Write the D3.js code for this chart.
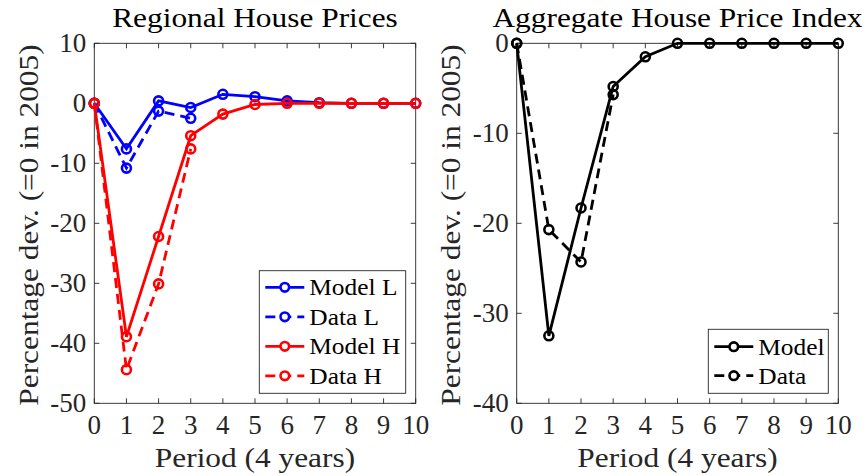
<!DOCTYPE html>
<html>
<head>
<meta charset="utf-8">
<script src="https://cdn.jsdelivr.net/npm/d3@7"></script>
<style>
  html, body { margin: 0; padding: 0; background: #fff; }
  svg { display: block; }
  text { font-family: "Liberation Serif", "Times New Roman", serif; }
</style>
</head>
<body>
<svg id="chart" width="867" height="476"></svg>
<script>
// Periods (4-year steps, 0 = 2005)
const periods = [0, 1, 2, 3, 4, 5, 6, 7, 8, 9, 10];
const dataPeriods = [0, 1, 2, 3];

// Regional house prices, % deviation from 2005
const modelL = [0, -7.6, 0.4, -0.7, 1.5, 1.1, 0.4, 0.1, 0, 0, 0];
const dataL  = [0, -10.8, -1.3, -2.5];
const modelH = [0, -38.9, -22.2, -5.4, -1.8, -0.2, 0, 0, 0, 0, 0];
const dataH  = [0, -44.4, -30.1, -7.6];

// Aggregate house price index, % deviation from 2005
const modelAgg = [0, -32.5, -18.3, -4.8, -1.5, 0, 0, 0, 0, 0, 0];
const dataAgg  = [0, -20.7, -24.3, -5.7];

const xTicks = [0, 1, 2, 3, 4, 5, 6, 7, 8, 9, 10];
const yTicksLeft = [-50, -40, -30, -20, -10, 0, 10];
const yTicksRight = [-40, -30, -20, -10, 0];

const svg = d3.select("#chart");
const AXIS = "#262626";

// Widen the serif face toward a Computer Modern footprint
function stretch(factor) {
  return sel => sel.each(function () {
    const w = this.getComputedTextLength();
    d3.select(this).attr("textLength", w * factor).attr("lengthAdjust", "spacingAndGlyphs");
  });
}

function panel(opts) {
  const x = d3.scaleLinear().domain([0, 10]).range([opts.x0, opts.x1]);
  const y = d3.scaleLinear().domain(opts.yDomain).range([403.3, 43.3]);
  const g = svg.append("g");
  const tickLen = 5;

  // Ticks pointing inward on all four sides
  const ax = g.append("g").attr("stroke", AXIS).attr("stroke-width", 0.9);
  xTicks.forEach(t => {
    ax.append("line").attr("x1", x(t)).attr("x2", x(t)).attr("y1", y.range()[0]).attr("y2", y.range()[0] - tickLen);
    ax.append("line").attr("x1", x(t)).attr("x2", x(t)).attr("y1", y.range()[1]).attr("y2", y.range()[1] + tickLen);
  });
  opts.yTicks.forEach(t => {
    ax.append("line").attr("x1", x.range()[0]).attr("x2", x.range()[0] + tickLen).attr("y1", y(t)).attr("y2", y(t));
    ax.append("line").attr("x1", x.range()[1]).attr("x2", x.range()[1] - tickLen).attr("y1", y(t)).attr("y2", y(t));
  });
  ax.append("rect")
    .attr("x", x.range()[0]).attr("y", y.range()[1])
    .attr("width", x.range()[1] - x.range()[0]).attr("height", y.range()[0] - y.range()[1])
    .attr("fill", "none");

  // Tick labels
  g.append("g").selectAll("text").data(xTicks).join("text")
    .attr("x", d => x(d)).attr("y", 434)
    .attr("text-anchor", "middle").attr("font-size", 27).attr("fill", AXIS)
    .text(d => d);
  g.append("g").selectAll("text").data(opts.yTicks).join("text")
    .attr("x", x.range()[0] - 8).attr("y", d => y(d)).attr("dy", "0.34em")
    .attr("text-anchor", "end").attr("font-size", 27).attr("fill", AXIS)
    .text(d => d);

  // Title and axis labels
  g.append("text").attr("x", (opts.x0 + opts.x1) / 2).attr("y", 27)
    .attr("text-anchor", "middle").attr("font-size", 28).attr("fill", "#000")
    .text(opts.title).call(stretch(1.12));
  g.append("text").attr("x", (opts.x0 + opts.x1) / 2).attr("y", 467)
    .attr("text-anchor", "middle").attr("font-size", 28).attr("fill", AXIS)
    .text("Period (4 years)").call(stretch(1.12));
  g.append("text")
    .attr("transform", `translate(${opts.yLabelX},225) rotate(-90)`)
    .attr("text-anchor", "middle").attr("font-size", 28).attr("fill", AXIS)
    .text("Percentage dev. (=0 in 2005)").call(stretch(1.12));

  // Series
  const plot = g.append("g");
  opts.series.forEach(s => {
    const pts = s.values.map((v, i) => [s.xs[i], v]);
    const line = d3.line().x(d => x(d[0])).y(d => y(d[1]));
    plot.append("path").datum(pts)
      .attr("d", line).attr("fill", "none")
      .attr("stroke", s.color).attr("stroke-width", 2.8)
      .attr("stroke-dasharray", s.dashed ? "10,6" : null)
      .attr("stroke-linejoin", "miter");
    plot.append("g").selectAll("circle").data(pts).join("circle")
      .attr("cx", d => x(d[0])).attr("cy", d => y(d[1])).attr("r", 4.5)
      .attr("fill", "none").attr("stroke", s.color).attr("stroke-width", 2.6);
  });

  // Legend
  const L = opts.legend;
  const lg = g.append("g");
  lg.append("rect").attr("x", L.x).attr("y", L.y).attr("width", L.w).attr("height", L.h)
    .attr("fill", "#fff").attr("stroke", AXIS).attr("stroke-width", 0.9);
  opts.series.forEach((s, i) => {
    const cy = L.y + L.first + i * L.step;
    lg.append("line").attr("x1", L.x + 6).attr("x2", L.x + 6 + L.lineW)
      .attr("y1", cy).attr("y2", cy)
      .attr("stroke", s.color).attr("stroke-width", 2.8)
      .attr("stroke-dasharray", s.dashed ? "10,6" : null);
    lg.append("circle").attr("cx", L.x + 6 + L.lineW / 2).attr("cy", cy).attr("r", 4.3)
      .attr("fill", "#fff").attr("stroke", s.color).attr("stroke-width", 2.6);
    lg.append("text").attr("x", L.x + 11 + L.lineW).attr("y", cy).attr("dy", "0.34em")
      .attr("font-size", 23.5).attr("fill", "#000").text(s.name).call(stretch(1.08));
  });
}

panel({
  x0: 94.3, x1: 415.7, yDomain: [-50, 10], yTicks: yTicksLeft,
  title: "Regional House Prices", yLabelX: 38,
  series: [
    { name: "Model L", xs: periods, values: modelL, color: "#0000ff", dashed: false },
    { name: "Data L", xs: dataPeriods, values: dataL, color: "#0000ff", dashed: true },
    { name: "Model H", xs: periods, values: modelH, color: "#ff0000", dashed: false },
    { name: "Data H", xs: dataPeriods, values: dataH, color: "#ff0000", dashed: true }
  ],
  legend: { x: 259.3, y: 270.7, w: 146.4, h: 122.6, first: 16.6, step: 29.5, lineW: 39 }
});

panel({
  x0: 516.7, x1: 838.3, yDomain: [-40, 0], yTicks: yTicksRight,
  title: "Aggregate House Price Index", yLabelX: 460,
  series: [
    { name: "Model", xs: periods, values: modelAgg, color: "#000000", dashed: false },
    { name: "Data", xs: dataPeriods, values: dataAgg, color: "#000000", dashed: true }
  ],
  legend: { x: 708.3, y: 329.3, w: 120, h: 64, first: 17.4, step: 29, lineW: 39 }
});
</script>
</body>
</html>
